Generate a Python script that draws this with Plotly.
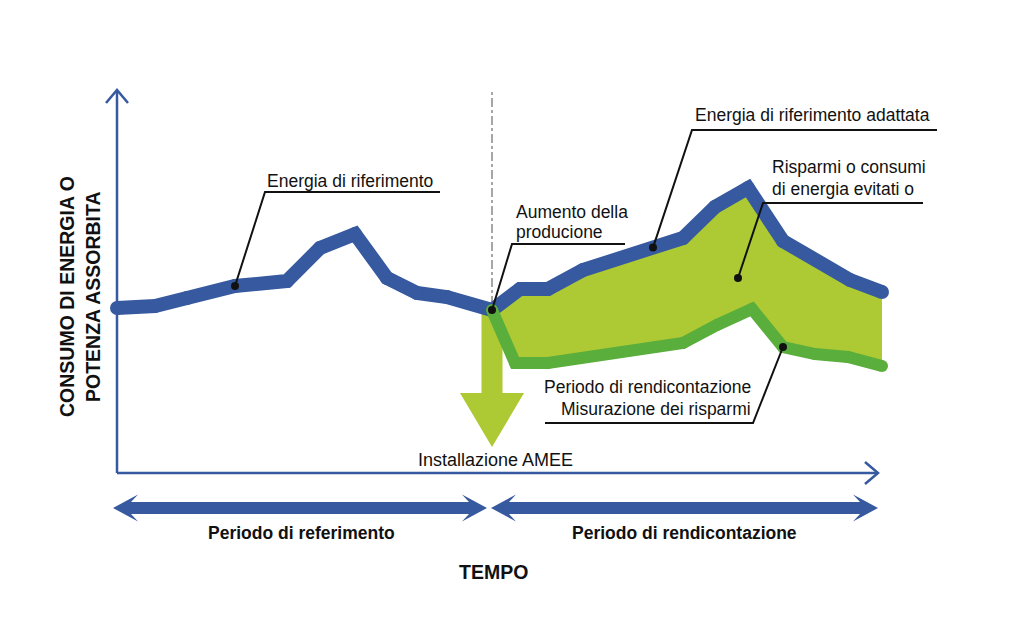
import numpy as np
import plotly.graph_objects as go

# ---- data (time units along x, consumption units along y) ----
base_t = [0, 38, 70, 118, 170, 203, 238, 270, 300, 330, 375, 403, 431, 466, 566, 598, 631, 666, 733, 765]
base_c = [165, 167, 175, 187, 192, 225, 239, 195, 180, 176, 163, 184, 184, 203, 235, 266, 285, 232, 193, 181]

rep_t = [375, 398, 431, 566, 600, 635, 666, 698, 731, 765]
rep_c = [163, 110, 110, 130, 148, 164, 126, 119, 116, 107]

t_install = 375
t_end = 765
t_axis_end = 761
c_axis_end = 383

BLUE = "#36599f"
GREEN = "#5aae3c"
LIGHT = "#adc934"
FONT = "Liberation Sans, Arial, sans-serif"

fig = go.Figure()

# adjusted baseline part (from installation)
adj_t = [t for t in base_t if t >= t_install]
adj_c = [c for t, c in zip(base_t, base_c) if t >= t_install]

# savings fill between adjusted baseline and reporting consumption
fill_t = adj_t + rep_t[::-1]
fill_c = adj_c + rep_c[::-1]
fig.add_trace(go.Scatter(x=fill_t, y=fill_c, fill="toself", fillcolor=LIGHT,
                         line=dict(width=0), mode="lines", hoverinfo="skip"))

# big down arrow at installation
sh, hh, top, base_y, tip_y = 10.5, 32, 163, 80, 26
arrow_x = [t_install - sh, t_install + sh, t_install + sh, t_install + hh, t_install,
           t_install - hh, t_install - sh, t_install - sh]
arrow_y = [top, top, base_y, base_y, tip_y, base_y, base_y, top]
fig.add_trace(go.Scatter(x=arrow_x, y=arrow_y, fill="toself", fillcolor=LIGHT,
                         line=dict(width=0), mode="lines", hoverinfo="skip"))

# baseline (blue) and reporting (green) lines, with round joins via markers
fig.add_trace(go.Scatter(x=base_t, y=base_c, mode="lines+markers",
                         line=dict(color=BLUE, width=14),
                         marker=dict(color=BLUE, size=14, line=dict(width=0)),
                         hoverinfo="skip"))
fig.add_trace(go.Scatter(x=rep_t, y=rep_c, mode="lines+markers",
                         line=dict(color=GREEN, width=12),
                         marker=dict(color=GREEN, size=12, line=dict(width=0)),
                         hoverinfo="skip"))

# annotation anchor dots
dot_adj_t = 536
dot_adj_c = float(np.interp(dot_adj_t, base_t, base_c))
dots_t = [base_t[3], base_t[10], dot_adj_t, 621, rep_t[6]]
dots_c = [base_c[3], base_c[10], dot_adj_c, 195, rep_c[6]]
fig.add_trace(go.Scatter(x=dots_t, y=dots_c, mode="markers",
                         marker=dict(color="#111111", size=8, line=dict(width=0)),
                         hoverinfo="skip"))

shapes = []

# vertical dash-dot installation line
shapes.append(dict(type="line", x0=t_install, x1=t_install, y0=168, y1=381,
                   line=dict(color="#a6a6a6", width=2, dash="dashdot"), layer="below"))

# axes
shapes.append(dict(type="line", x0=0, x1=0, y0=0, y1=c_axis_end, line=dict(color=BLUE, width=2.5)))
shapes.append(dict(type="line", x0=0, x1=t_axis_end, y0=0, y1=0, line=dict(color=BLUE, width=2.5)))
shapes.append(dict(type="path", path=f"M -11 {c_axis_end-13} L 0 {c_axis_end} L 11 {c_axis_end-13}",
                   line=dict(color=BLUE, width=2.5)))
shapes.append(dict(type="path", path=f"M {t_axis_end-13} 11 L {t_axis_end} 0 L {t_axis_end-13} -11",
                   line=dict(color=BLUE, width=2.5)))


def dbl_arrow(t0, t1, c, L=25, H=13.5, notch=7, w=6):
    pts = [(t0, c), (t0 + L, c + H), (t0 + L - notch, c + w), (t1 - L + notch, c + w),
           (t1 - L, c + H), (t1, c), (t1 - L, c - H), (t1 - L + notch, c - w),
           (t0 + L - notch, c - w), (t0 + L, c - H)]
    return "M " + " L ".join(f"{x} {y}" for x, y in pts) + " Z"


shapes.append(dict(type="path", path=dbl_arrow(-4, 370, -35), fillcolor=BLUE, line=dict(width=0)))
shapes.append(dict(type="path", path=dbl_arrow(374, t_axis_end, -35), fillcolor=BLUE, line=dict(width=0)))

# leader lines (underline + pointer)
leaders = [
    ([323, 148, base_t[3]], [281, 281, base_c[3]]),
    ([508, 395, base_t[10]], [229, 229, base_c[10]]),
    ([820, 575, dot_adj_t], [343, 343, dot_adj_c]),
    ([806, 646, 621], [270, 270, 195]),
    ([428, 636, rep_t[6]], [50, 50, rep_c[6]]),
]
for xs, ys in leaders:
    p = f"M {xs[0]} {ys[0]} L {xs[1]} {ys[1]} L {xs[2]} {ys[2]}"
    shapes.append(dict(type="path", path=p, line=dict(color="#111111", width=2)))

annots = []


def txt(x, y, s, xanchor="center", size=17.5, bold=False, angle=0):
    annots.append(dict(x=x, y=y, xref="x", yref="y", text=f"<b>{s}</b>" if bold else s,
                       showarrow=False, xanchor=xanchor, yanchor="middle", textangle=angle,
                       font=dict(family=FONT, size=size, color="#111111")))


txt(233, 292, "Energia di riferimento")
txt(397, 261, "Aumento della", xanchor="left")
txt(397, 241, "producione", xanchor="left")
txt(576, 358, "Energia di riferimento adattata", xanchor="left")
txt(653, 306, "Risparmi o consumi", xanchor="left")
txt(653, 284, "di energia evitati o", xanchor="left")
txt(636, 86, "Periodo di rendicontazione", xanchor="right")
txt(636, 64, "Misurazione dei risparmi", xanchor="right")
txt(378, 13, "Installazione AMEE", size=18)
txt(184, -60, "Periodo di referimento", bold=True, size=17.5)
txt(567, -60, "Periodo di rendicontazione", bold=True, size=17.5)
txt(376, -99, "TEMPO", bold=True, size=19.5)
txt(-50, 176, "CONSUMO DI ENERGIA O", bold=True, size=19.5, angle=-90)
txt(-24, 176, "POTENZA ASSORBITA", bold=True, size=19.5, angle=-90)

fig.update_layout(
    width=1024, height=638, margin=dict(l=0, r=0, t=0, b=0),
    paper_bgcolor="white", plot_bgcolor="white", showlegend=False,
    xaxis=dict(range=[-117, 907], visible=False, fixedrange=True),
    yaxis=dict(range=[-165, 473], visible=False, fixedrange=True),
    shapes=shapes, annotations=annots,
)

fig.write_html("out.html")
